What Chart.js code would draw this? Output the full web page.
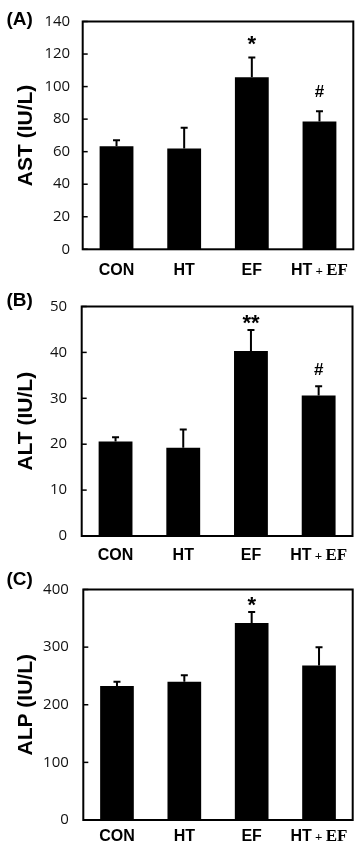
<!DOCTYPE html>
<html>
<head>
<meta charset="utf-8">
<script src="https://cdn.jsdelivr.net/npm/chart.js@4.4.1/dist/chart.umd.min.js"></script>
<style>
    html, body { margin: 0; padding: 0; background: #fff; }
    #wrap { position: relative; width: 361px; height: 849px; }
    canvas { position: absolute; left: 0; }
</style>
</head>
<body>
<div id="wrap">
    <canvas id="chart-a" width="361" height="283" style="top:0px"></canvas>
    <canvas id="chart-b" width="361" height="283" style="top:283px"></canvas>
    <canvas id="chart-c" width="361" height="283" style="top:566px"></canvas>
</div>
<script>
const groups = ["CON", "HT", "EF", "HT + EF"];

// AST
const astMean = [63.3, 62.0, 105.7, 78.5];
const astSD = [3.7, 12.7, 12.2, 6.3];
const astMarks = ["", "", "*", "#"];
const astMarkAt = [0, 0, 128.2, 97.2];
const astTicks = [0, 20, 40, 60, 80, 100, 120, 140];

// ALT
const altMean = [20.6, 19.2, 40.3, 30.6];
const altSD = [0.9, 4.0, 4.6, 2.0];
const altMarks = ["", "", "**", "#"];
const altMarkAt = [0, 0, 47.2, 36.4];
const altTicks = [0, 10, 20, 30, 40, 50];

// ALP
const alpMean = [232.6, 239.9, 342.0, 268.0];
const alpSD = [7.3, 11.2, 19.0, 32.0];
const alpMarks = ["", "", "*", ""];
const alpMarkAt = [0, 0, 379.4, 0];
const alpTicks = [0, 100, 200, 300, 400];

const SANS = "'Liberation Sans', Arial, sans-serif";
const SERIF = "'Liberation Serif', 'Times New Roman', serif";

function centerText(ctx, text, x, y) {
    let m = ctx.measureText(text);
    let base = y + (m.actualBoundingBoxAscent - m.actualBoundingBoxDescent) / 2;
    ctx.fillText(text, x, base);
}

function drawGroupLabel(ctx, label, x, y) {
    let parts;
    if (label.indexOf(" + ") > 0) {
        let [a, b] = label.split(" + ");
        parts = [
            { t: a, f: "bold 16px " + SANS },
            { t: " + ", f: "bold 13px " + SERIF },
            { t: b, f: "bold 17px " + SERIF }
        ];
    } else {
        parts = [{ t: label, f: "bold 16px " + SANS }];
    }
    let total = 0;
    parts.forEach(p => { ctx.font = p.f; p.w = ctx.measureText(p.t).width; total += p.w; });
    ctx.font = "bold 16px " + SANS;
    let ref = ctx.measureText("CON");
    let base = y + (ref.actualBoundingBoxAscent - ref.actualBoundingBoxDescent) / 2;
    let cx = x - total / 2;
    ctx.textAlign = "left";
    ctx.textBaseline = "alphabetic";
    parts.forEach(p => {
        ctx.font = p.f;
        ctx.fillText(p.t, cx, base);
        cx += p.w;
    });
}

const panelPlugin = {
    id: "panel",
    afterDatasetsDraw(chart, args, opts) {
        const { ctx, chartArea: area, scales: { x, y } } = chart;
        const meta = chart.getDatasetMeta(0);
        ctx.save();
        ctx.strokeStyle = "#000";
        ctx.fillStyle = "#000";

        // error bars (upper only)
        ctx.lineWidth = 2;
        meta.data.forEach((bar, i) => {
            let top = y.getPixelForValue(opts.mean[i] + opts.sd[i]);
            ctx.beginPath();
            ctx.moveTo(bar.x, bar.y);
            ctx.lineTo(bar.x, top);
            ctx.moveTo(bar.x - 3.5, top);
            ctx.lineTo(bar.x + 3.5, top);
            ctx.stroke();
        });

        // significance marks
        ctx.textAlign = "center";
        ctx.textBaseline = "alphabetic";
        opts.marks.forEach((m, i) => {
            if (!m) return;
            ctx.font = m === "#" ? "bold 17px " + SANS : "bold 22px " + SANS;
            centerText(ctx, m, x.getPixelForValue(i), y.getPixelForValue(opts.markAt[i]));
        });

        // frame
        ctx.lineWidth = 2;
        ctx.strokeRect(area.left, area.top, area.right - area.left, area.bottom - area.top);

        // inner tick marks
        ctx.lineWidth = 1.5;
        y.ticks.forEach(t => {
            let py = y.getPixelForValue(t.value);
            ctx.beginPath();
            ctx.moveTo(area.left, py);
            ctx.lineTo(area.left + 5, py);
            ctx.stroke();
        });

        // category labels
        chart.data.labels.forEach((lab, i) => {
            drawGroupLabel(ctx, lab, x.getPixelForValue(i), area.bottom + opts.labelGap);
        });

        // panel letter
        ctx.font = "bold 19px " + SANS;
        ctx.textAlign = "left";
        centerText(ctx, opts.letter, 6.5, opts.letterY);
        ctx.restore();
    }
};

function makePanel(id, box, title, mean, sd, marks, markAt, ticks) {
    const canvas = document.getElementById(id);
    const h = canvas.height;
    return new Chart(canvas.getContext("2d"), {
        type: "bar",
        data: {
            labels: groups,
            datasets: [{
                data: mean,
                backgroundColor: "#000",
                borderWidth: 0,
                categoryPercentage: 1,
                barPercentage: 0.5
            }]
        },
        options: {
            responsive: false,
            animation: false,
            events: [],
            layout: { padding: { left: 0, top: box.top, right: 361 - box.right, bottom: 0 } },
            plugins: {
                legend: { display: false },
                tooltip: { enabled: false },
                panel: {
                    mean, sd, marks, markAt,
                    letter: box.letter,
                    letterY: box.letterY,
                    labelGap: box.labelGap
                }
            },
            scales: {
                x: {
                    grid: { display: false },
                    border: { display: false },
                    ticks: { display: false },
                    afterFit: s => { s.height = h - box.bottom; }
                },
                y: {
                    min: ticks[0],
                    max: ticks[ticks.length - 1],
                    afterBuildTicks: s => { s.ticks = ticks.map(v => ({ value: v })); },
                    grid: { display: false, drawTicks: false },
                    border: { display: false },
                    ticks: {
                        padding: box.tickPad,
                        color: "#111",
                        font: { family: "'Open Sans', sans-serif", size: 15 }
                    },
                    title: {
                        display: true,
                        text: title,
                        color: "#000",
                        padding: { top: box.titlePad, bottom: 0 },
                        font: { family: SANS, size: 21, weight: "bold" }
                    },
                    afterFit: s => { s.width = box.left; }
                }
            }
        },
        plugins: [panelPlugin]
    });
}

makePanel("chart-a",
    { left: 82.7, right: 353.3, top: 12.7, bottom: 249.3, labelGap: 19.4, letter: "(A)", letterY: 20, tickPad: 12.5, titlePad: 14 },
    "AST (IU/L)", astMean, astSD, astMarks, astMarkAt, astTicks);
makePanel("chart-b",
    { left: 81.7, right: 352.5, top: 16, bottom: 253, labelGap: 18, letter: "(B)", letterY: 18.7, tickPad: 14.5, titlePad: 13.2 },
    "ALT (IU/L)", altMean, altSD, altMarks, altMarkAt, altTicks);
makePanel("chart-c",
    { left: 83.3, right: 352.7, top: 15, bottom: 254, labelGap: 15, letter: "(C)", letterY: 14.8, tickPad: 14.5, titlePad: 13.2 },
    "ALP (IU/L)", alpMean, alpSD, alpMarks, alpMarkAt, alpTicks);
</script>
</body>
</html>
